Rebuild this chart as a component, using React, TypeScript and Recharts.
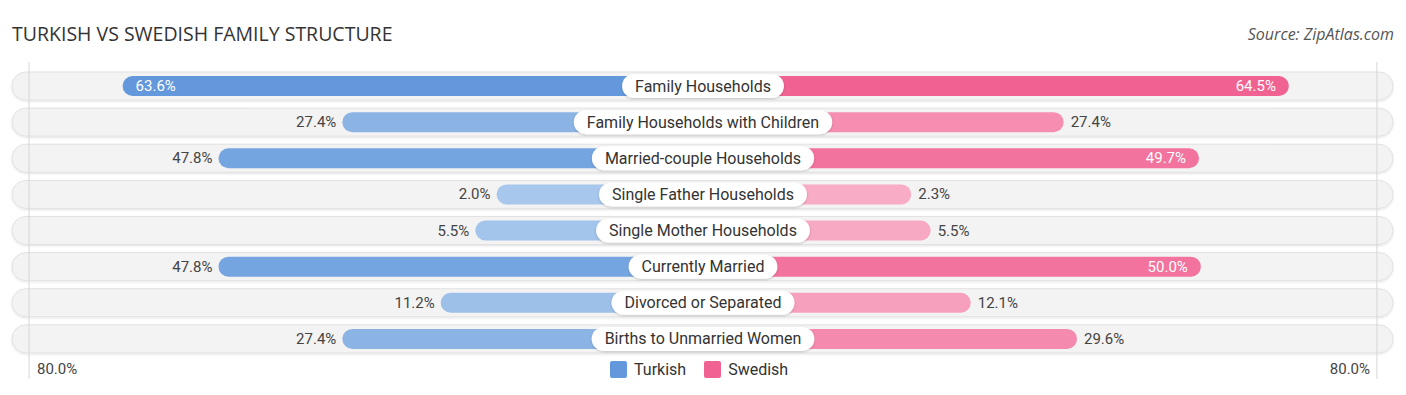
import React from 'react';
import { BarChart, Bar, XAxis, YAxis, LabelList, ReferenceLine } from 'recharts';

const categories = [
  'Family Households',
  'Family Households with Children',
  'Married-couple Households',
  'Single Father Households',
  'Single Mother Households',
  'Currently Married',
  'Divorced or Separated',
  'Births to Unmarried Women',
];
const turkish = [63.6, 27.4, 47.8, 2.0, 5.5, 47.8, 11.2, 27.4];
const swedish = [64.5, 27.4, 49.7, 2.3, 5.5, 50.0, 12.1, 29.6];
const axisLabels = ['80.0%', '80.0%'];
const seriesNames = ['Turkish', 'Swedish'];

// bars start under the centre label, so each bar gets a fixed extra length
const PAD = 32;
const AXIS_MAX = 80 + PAD;
const INSIDE_MIN = 49;

const BLUE = '#6399dc';
const PINK = '#f06292';

const mix = (a: string, b: string, t: number) => {
  const p = (s: string, i: number) => parseInt(s.slice(1 + i * 2, 3 + i * 2), 16);
  const c = [0, 1, 2].map((i) => Math.round(p(a, i) + (p(b, i) - p(a, i)) * t));
  return `rgb(${c.join(',')})`;
};
const shade = (light: string, dark: string, v: number) => mix(light, dark, Math.min(1, v / 64));

const data = categories.map((name, i) => ({
  name,
  tr: turkish[i],
  se: swedish[i],
  trBar: -(turkish[i] + PAD),
  seBar: swedish[i] + PAD,
}));

let ctx: CanvasRenderingContext2D | null = null;
const measure = (text: string, font: string) => {
  if (!ctx) ctx = document.createElement('canvas').getContext('2d');
  if (!ctx) return text.length * 8;
  ctx.font = font;
  return ctx.measureText(text).width;
};

const box = (props: any) => {
  const vb = props.viewBox && props.viewBox.x !== undefined ? props.viewBox : props;
  return { x: Number(vb.x), y: Number(vb.y), w: Number(vb.width), h: Number(vb.height) };
};

const CenterLabel = (props: any) => {
  const { x, y, h } = box(props);
  const text = String(props.value);
  const w = measure(text, '16px Roboto') + 26;
  const cy = y + h / 2;
  return (
    <g>
      <rect x={x - w / 2} y={cy - 12} width={w} height={24} rx={12} fill="#fff" filter="url(#pillShadow)" />
      <text x={x} y={cy + 5.5} textAnchor="middle" fontSize={16} fill="#333" fontFamily="Roboto">
        {text}
      </text>
    </g>
  );
};

const TurkishValue = (props: any) => {
  const { x, y, w, h } = box(props);
  const v = Number(props.value);
  const left = Math.min(x, x + w);
  const inside = v >= INSIDE_MIN;
  return (
    <text
      x={inside ? left + 13 : left - 6}
      y={y + h / 2 + 5}
      textAnchor={inside ? 'start' : 'end'}
      fontSize={15}
      fill={inside ? '#fff' : '#444'}
      fontFamily="Roboto"
    >
      {v.toFixed(1)}%
    </text>
  );
};

const SwedishValue = (props: any) => {
  const { x, y, w, h } = box(props);
  const v = Number(props.value);
  const right = Math.max(x, x + w);
  const inside = v >= INSIDE_MIN;
  return (
    <text
      x={inside ? right - 13 : right + 7}
      y={y + h / 2 + 5}
      textAnchor={inside ? 'end' : 'start'}
      fontSize={15}
      fill={inside ? '#fff' : '#444'}
      fontFamily="Roboto"
    >
      {v.toFixed(1)}%
    </text>
  );
};

const RowBackground = (props: any) => {
  const cy = props.y + props.height / 2;
  return (
    <rect
      x={12}
      y={cy - 14}
      width={1381}
      height={28}
      rx={14}
      fill="#f3f3f3"
      stroke="#e2e2e2"
      strokeWidth={1}
      filter="url(#rowShadow)"
    />
  );
};

const GridLine = (props: any) => (
  <line x1={props.x1} x2={props.x2} y1={62} y2={379} stroke="#d6d6d6" strokeWidth={1} />
);

export default function App() {
  return (
    <div style={{ position: 'absolute', left: 0, top: 0, width: 1406, height: 395, background: '#fff', fontFamily: 'Roboto' }}>
      <div style={{ position: 'absolute', left: 12, top: 20, fontFamily: 'Open Sans', fontSize: 19.5, color: '#333' }}>
        TURKISH VS SWEDISH FAMILY STRUCTURE
      </div>
      <div style={{ position: 'absolute', right: 12, top: 23, fontFamily: 'Open Sans', fontStyle: 'italic', fontSize: 16, color: '#555' }}>
        Source: ZipAtlas.com
      </div>

      <BarChart
        width={1406}
        height={395}
        data={data}
        layout="vertical"
        stackOffset="sign"
        margin={{ top: 68, bottom: 38, left: 23, right: 23 }}
        style={{ position: 'absolute', left: 0, top: 0 }}
      >
        <defs>
          <filter id="rowShadow" x="-5%" y="-30%" width="110%" height="160%">
            <feDropShadow dx="0" dy="1" stdDeviation="1" floodColor="#000" floodOpacity="0.12" />
          </filter>
          <filter id="pillShadow" x="-10%" y="-30%" width="120%" height="160%">
            <feDropShadow dx="0" dy="1" stdDeviation="1.2" floodColor="#000" floodOpacity="0.2" />
          </filter>
        </defs>
        <XAxis type="number" domain={[-AXIS_MAX, AXIS_MAX]} hide />
        <YAxis type="category" dataKey="name" hide />
        <Bar
          dataKey="trBar"
          stackId="a"
          barSize={20}
          background={RowBackground}
          isAnimationActive={false}
          shape={(p: any) => {
            const left = Math.min(p.x, p.x + p.width);
            const w = Math.abs(p.width);
            return <rect x={left} y={p.y} width={w} height={p.height} rx={10} fill={shade('#a9c8ec', BLUE, p.payload.tr)} />;
          }}
        >
          <LabelList dataKey="tr" content={TurkishValue} />
        </Bar>
        <Bar
          dataKey="seBar"
          stackId="a"
          barSize={20}
          isAnimationActive={false}
          shape={(p: any) => {
            const left = Math.min(p.x, p.x + p.width);
            const w = Math.abs(p.width);
            return <rect x={left} y={p.y} width={w} height={p.height} rx={10} fill={shade('#f8afc8', PINK, p.payload.se)} />;
          }}
        >
          <LabelList dataKey="se" content={SwedishValue} />
          <LabelList dataKey="name" content={CenterLabel} />
        </Bar>
        <ReferenceLine x={-(AXIS_MAX - 1)} shape={GridLine} />
        <ReferenceLine x={AXIS_MAX - 1} shape={GridLine} />
      </BarChart>

      <div style={{ position: 'absolute', left: 37, top: 360, fontSize: 15, color: '#444' }}>{axisLabels[0]}</div>
      <div style={{ position: 'absolute', right: 36, top: 360, fontSize: 15, color: '#444' }}>{axisLabels[1]}</div>

      <div style={{ position: 'absolute', left: 610, top: 360, display: 'flex', alignItems: 'center', fontSize: 16, color: '#333' }}>
        <span style={{ width: 17, height: 17, borderRadius: 2, background: BLUE, display: 'inline-block' }} />
        <span style={{ marginLeft: 7 }}>{seriesNames[0]}</span>
        <span style={{ width: 17, height: 17, borderRadius: 2, background: PINK, display: 'inline-block', marginLeft: 18 }} />
        <span style={{ marginLeft: 7 }}>{seriesNames[1]}</span>
      </div>
    </div>
  );
}
